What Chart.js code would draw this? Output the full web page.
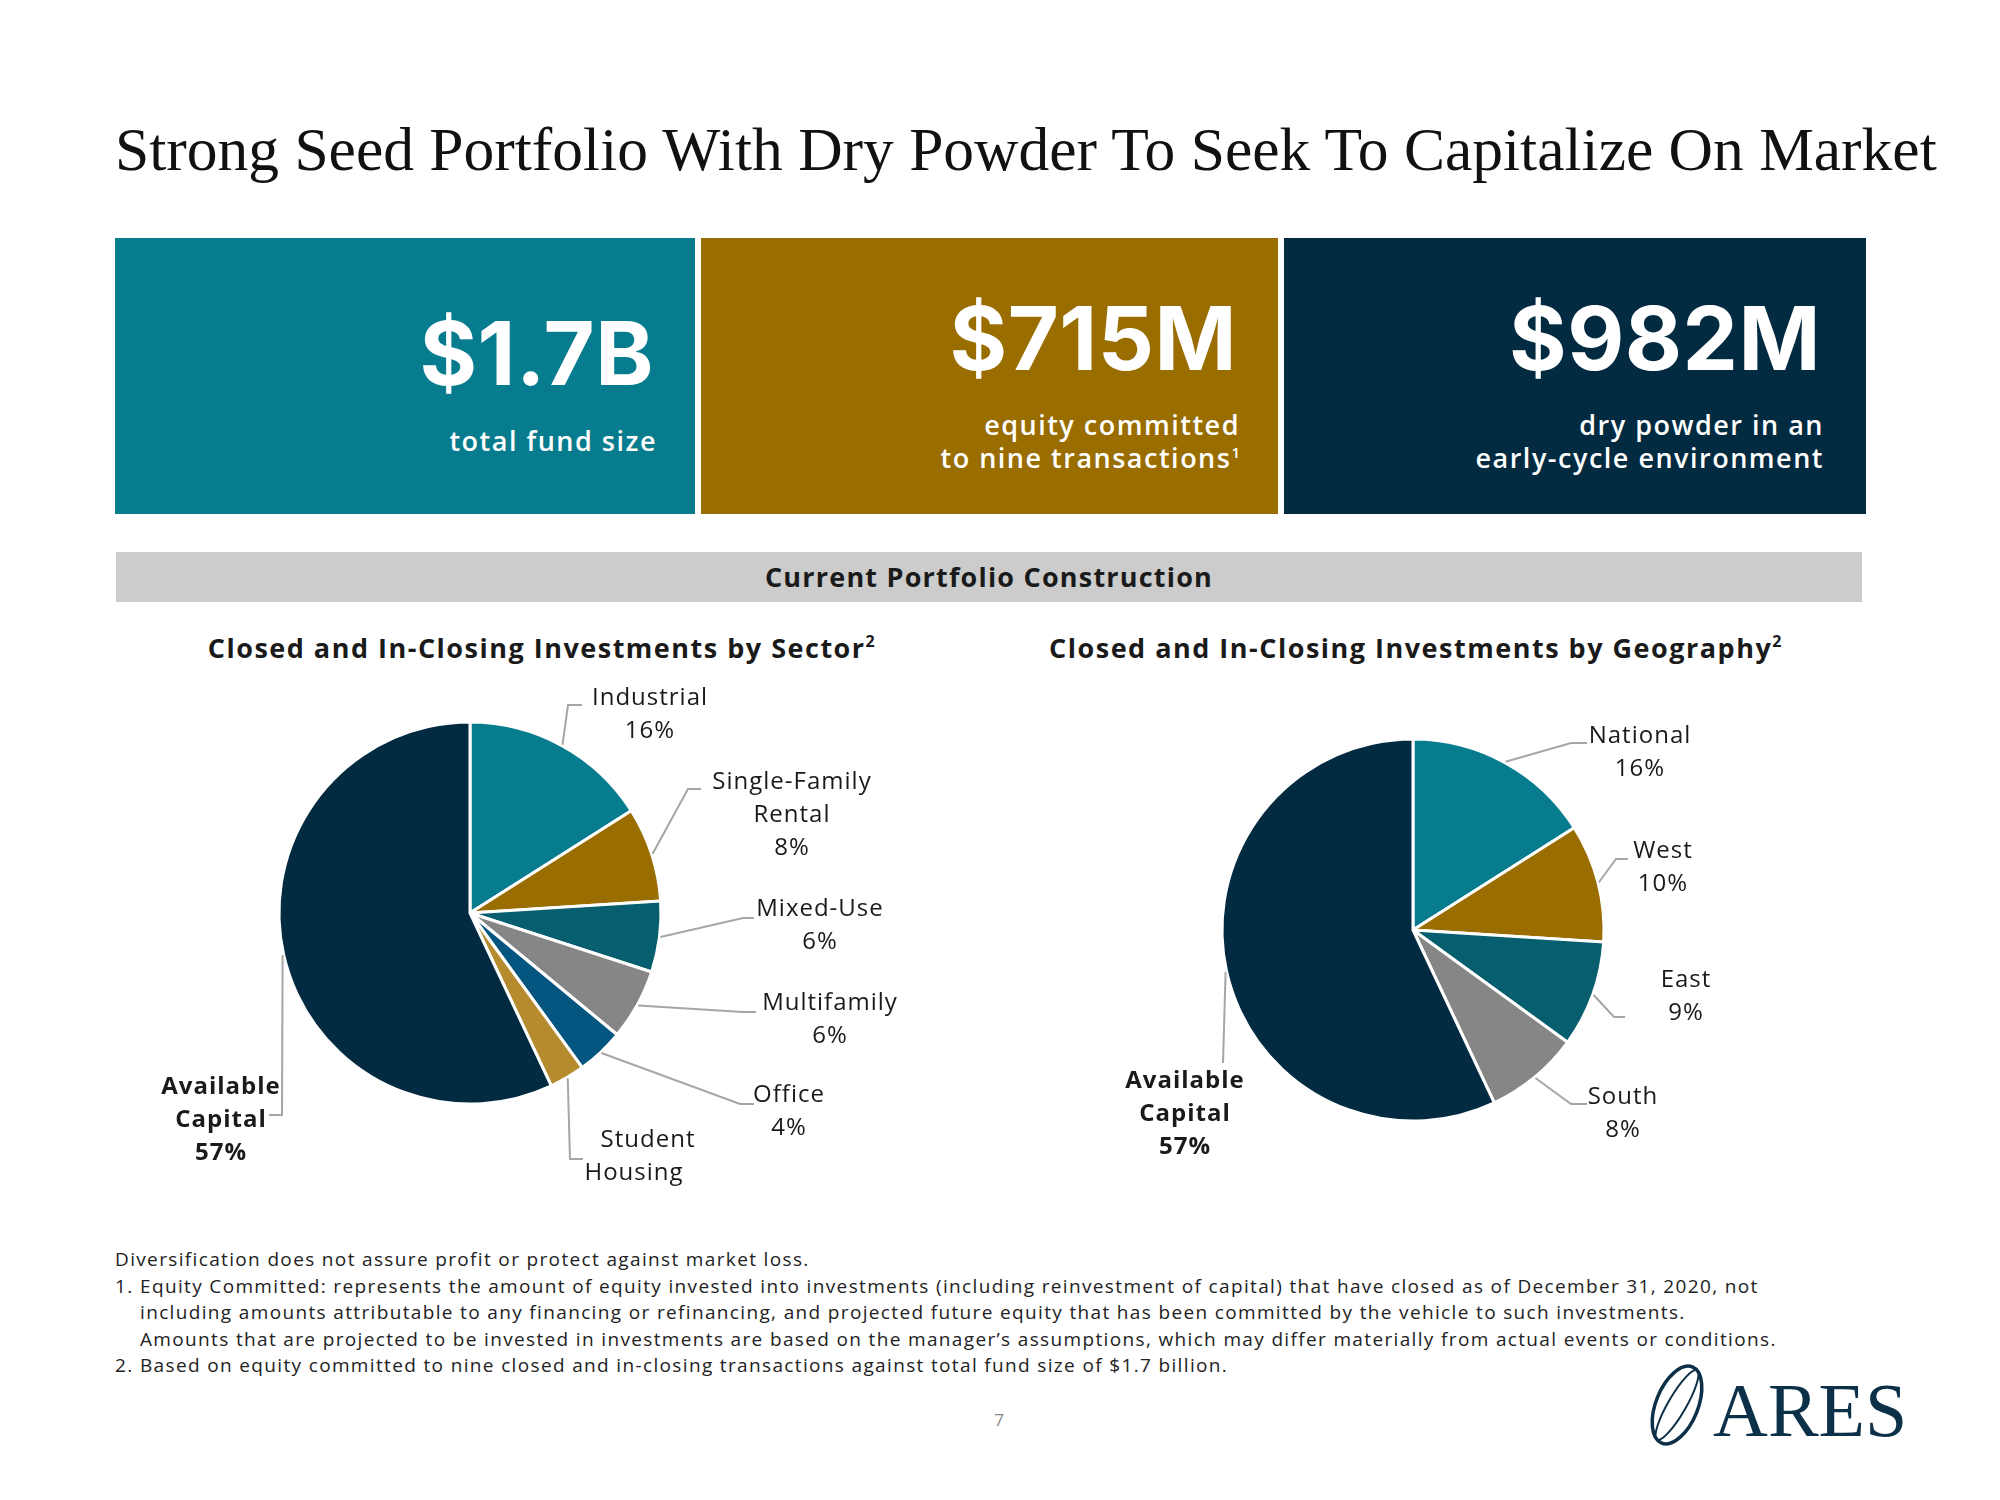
<!DOCTYPE html>
<html>
<head>
<meta charset="utf-8">
<script src="https://cdn.jsdelivr.net/npm/chart.js@4.4.1/dist/chart.umd.min.js"></script>
<style>
  body { margin: 0; width: 2000px; height: 1500px; background: #fff; position: relative; overflow: hidden;
         font-family: "Open Sans", sans-serif; color: #1a1a1a; }
  .abs { position: absolute; }
  .title { left: 115px; top: 119px; font-family: "Liberation Serif", serif; font-size: 61.5px; line-height: 61px;
           color: #111; white-space: nowrap; }
  .box { top: 238px; height: 276px; }
  .big { font-family: Inter, sans-serif; font-weight: 700; font-size: 88px; line-height: 88px; color: #fff;
         text-align: right; white-space: nowrap; letter-spacing: 0.5px; }
  .sub { font-weight: 600; font-size: 27px; line-height: 33px; color: #fff; text-align: right;
         white-space: nowrap; letter-spacing: 1.5px; }
  .sub sup { font-size: 15px; line-height: 0; vertical-align: 10px; letter-spacing: 0; }
  .band { left: 116px; top: 552px; width: 1746px; height: 50px; background: #cccccc; text-align: center;
          font-weight: 700; font-size: 27px; line-height: 50px; letter-spacing: 1.2px; }
  .ctitle { top: 630px; width: 800px; text-align: center; font-weight: 700; font-size: 27px; line-height: 36px;
            letter-spacing: 1.5px; white-space: nowrap; }
  .ctitle sup { font-size: 16px; line-height: 0; vertical-align: 11px; }
  .notes { left: 115px; top: 1246px; font-size: 19px; line-height: 26.5px; letter-spacing: 1.35px; color: #222; }
  .notes div { white-space: nowrap; }
  .notes .ind { padding-left: 25px; }
  .notes .num { display: inline-block; width: 25px; margin-left: -25px; }
  .page { left: 949px; width: 100px; top: 1408px; text-align: center; font-size: 17px; color: #888; }
  .ares { left: 1713px; top: 1372px; font-family: "Liberation Serif", serif; font-size: 76px; line-height: 76px;
          color: #0d3049; }
</style>
</head>
<body>
<div class="abs title">Strong Seed Portfolio With Dry Powder To Seek To Capitalize On Market</div>

<div class="abs box" style="left:115px;width:580px;background:#077c8e;"></div>
<div class="abs box" style="left:701px;width:577px;background:#996d00;"></div>
<div class="abs box" style="left:1284px;width:582px;background:#022a40;"></div>

<div class="abs big" style="right:1346px;top:309px;">$1.7B</div>
<div class="abs big" style="right:763px;top:294px;">$715M</div>
<div class="abs big" style="right:179px;top:294px;">$982M</div>

<div class="abs sub" style="right:1343px;top:424px;">total fund size</div>
<div class="abs sub" style="right:760px;top:408px;">equity committed<br>to nine transactions<sup>1</sup></div>
<div class="abs sub" style="right:176px;top:408px;">dry powder in an<br>early-cycle environment</div>

<div class="abs band">Current Portfolio Construction</div>

<div class="abs ctitle" style="left:142px;">Closed and In-Closing Investments by Sector<sup>2</sup></div>
<div class="abs ctitle" style="left:1016px;">Closed and In-Closing Investments by Geography<sup>2</sup></div>

<canvas id="sectorChart" class="abs" width="900" height="540" style="left:100px;top:680px;"></canvas>
<canvas id="geoChart" class="abs" width="700" height="540" style="left:1050px;top:680px;"></canvas>

<div class="abs notes">
  <div>Diversification does not assure profit or protect against market loss.</div>
  <div class="ind"><span class="num">1.</span>Equity Committed: represents the amount of equity invested into investments (including reinvestment of capital) that have closed as of December 31, 2020, not</div>
  <div class="ind">including amounts attributable to any financing or refinancing, and projected future equity that has been committed by the vehicle to such investments.</div>
  <div class="ind">Amounts that are projected to be invested in investments are based on the manager’s assumptions, which may differ materially from actual events or conditions.</div>
  <div class="ind"><span class="num">2.</span>Based on equity committed to nine closed and in-closing transactions against total fund size of $1.7 billion.</div>
</div>

<div class="abs page">7</div>

<svg class="abs" style="left:1640px;top:1360px;" width="75" height="90" viewBox="0 0 75 90">
  <ellipse cx="37" cy="45" rx="21" ry="41" transform="rotate(22 37 45)" fill="none" stroke="#0d3049" stroke-width="3.5"/>
  <ellipse cx="37" cy="45" rx="9" ry="40" transform="rotate(30 37 45)" fill="none" stroke="#0d3049" stroke-width="2"/>
</svg>
<div class="abs ares">ARES</div>

<script>
// sector pie
const sectorNames = [["Industrial"], ["Single-Family", "Rental"], ["Mixed-Use"], ["Multifamily"], ["Office"], ["Student", "Housing"], ["Available", "Capital"]];
const sectorValues = [16, 8, 6, 6, 4, 3, 57];
const sectorShowPct = [true, true, true, true, true, false, true];
const sectorColors = ["#077c8e", "#996d00", "#065e6e", "#868686", "#045580", "#b58b2d", "#022a40"];

// geography pie
const geoNames = [["National"], ["West"], ["East"], ["South"], ["Available", "Capital"]];
const geoValues = [16, 10, 9, 8, 57];
const geoShowPct = [true, true, true, true, true];
const geoColors = ["#077c8e", "#996d00", "#065e6e", "#868686", "#022a40"];

// callout placement, px from pie centre: text centre (or one per line) / first baseline, leader elbow and end
const sectorCallouts = [
  { tx: 180, ty: -208, elbow: [98, -208], end: [112, -208] },
  { tx: 322, ty: -124, elbow: [218, -124], end: [231, -124] },
  { tx: 350, ty: 3, elbow: [273, 5], end: [284, 5] },
  { tx: 360, ty: 97, elbow: [273, 99], end: [286, 99] },
  { tx: 319, ty: 189, elbow: [270, 191], end: [284, 191] },
  { tx: [178, 164], ty: 234, elbow: [100, 246], end: [113, 246] },
  { tx: -249, ty: 181, elbow: [-188, 202], end: [-201, 202], bold: true }
];
const geoCallouts = [
  { tx: 227, ty: -187, elbow: [158, -187], end: [174, -187] },
  { tx: 250, ty: -72, elbow: [203, -71], end: [215, -71] },
  { tx: 273, ty: 57, elbow: [201, 87], end: [212, 87] },
  { tx: 210, ty: 174, elbow: [158, 174], end: [174, 174] },
  { tx: -228, ty: 158, elbow: [-190, 133], bold: true }
];

const calloutPlugin = {
  id: "callouts",
  afterDatasetsDraw(chart, args, opts) {
    const ctx = chart.ctx;
    const meta = chart.getDatasetMeta(0);
    const values = chart.data.datasets[0].data;
    meta.data.forEach((arc, i) => {
      const c = opts.layout[i];
      const lines = opts.names[i].slice();
      if (opts.showPct[i]) lines.push(values[i] + "%");
      const cx = arc.x, cy = arc.y;
      const mid = (arc.startAngle + arc.endAngle) / 2;
      const r = arc.outerRadius + 1;

      ctx.save();
      ctx.strokeStyle = "#a6a6a6";
      ctx.lineWidth = 2;
      ctx.beginPath();
      ctx.moveTo(cx + Math.cos(mid) * r, cy + Math.sin(mid) * r);
      ctx.lineTo(cx + c.elbow[0], cy + c.elbow[1]);
      if (c.end) ctx.lineTo(cx + c.end[0], cy + c.end[1]);
      ctx.stroke();

      ctx.fillStyle = "#1a1a1a";
      ctx.font = (c.bold ? "700 " : "400 ") + "24px 'Open Sans'";
      ctx.letterSpacing = "1px";
      ctx.textAlign = "center";
      ctx.textBaseline = "alphabetic";
      lines.forEach((t, k) => {
        const dx = Array.isArray(c.tx) ? c.tx[k] : c.tx;
        ctx.fillText(t, cx + dx, cy + c.ty + k * 33);
      });
      ctx.restore();
    });
  }
};

function makePie(id, values, colors, names, showPct, callouts, padding) {
  return new Chart(document.getElementById(id), {
    type: "pie",
    data: {
      labels: names.map(n => n.join(" ")),
      datasets: [{
        data: values,
        backgroundColor: colors,
        borderColor: "#ffffff",
        borderWidth: 3,
        radius: 191
      }]
    },
    options: {
      responsive: false,
      animation: false,
      events: [],
      layout: { padding: padding },
      plugins: {
        legend: { display: false },
        tooltip: { enabled: false },
        callouts: { layout: callouts, names: names, showPct: showPct }
      }
    },
    plugins: [calloutPlugin]
  });
}

makePie("sectorChart", sectorValues, sectorColors, sectorNames, sectorShowPct, sectorCallouts,
  { left: 0, right: 160, top: 0, bottom: 74 });
makePie("geoChart", geoValues, geoColors, geoNames, geoShowPct, geoCallouts,
  { left: 26, right: 0, top: 0, bottom: 40 });
</script>
</body>
</html>
